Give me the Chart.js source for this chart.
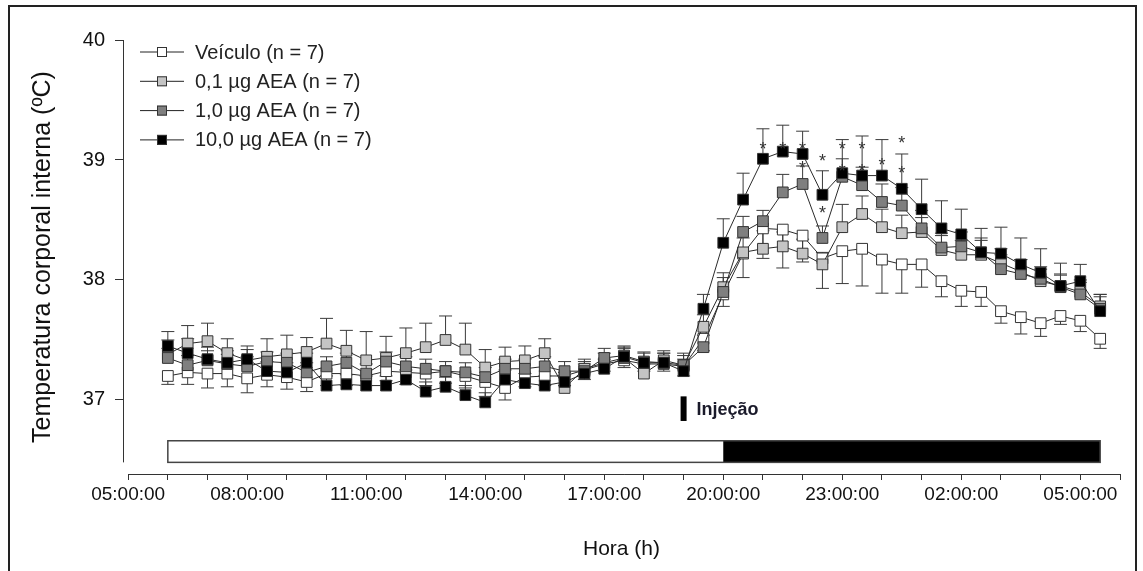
<!DOCTYPE html>
<html>
<head>
<meta charset="utf-8">
<script src="https://cdn.jsdelivr.net/npm/chart.js@4.4.0/dist/chart.umd.min.js"></script>
<style>
  html, body { margin: 0; padding: 0; background: #fff; }
  #frame { position: absolute; left: 8px; top: 5px; width: 1125px; height: 580px; border: 2px solid #222; border-bottom: none; }
  #chart { position: absolute; left: 0; top: 0; }
</style>
</head>
<body>
<div id="frame"></div>
<canvas id="chart" width="1143" height="571"></canvas>
<script>
// hora do registro (horas desde 00:00 do 1o dia)
const hours = [6, 6.5, 7, 7.5, 8, 8.5, 9, 9.5, 10, 10.5, 11, 11.5, 12, 12.5, 13, 13.5,
  14, 14.5, 15, 15.5, 16, 16.5, 17, 17.5, 18, 18.5, 19, 19.5, 20, 20.5, 21, 21.5,
  22, 22.5, 23, 23.5, 24, 24.5, 25, 25.5, 26, 26.5, 27, 27.5, 28, 28.5, 29, 29.5];

const veiculo = [37.20, 37.23, 37.22, 37.22, 37.18, 37.21, 37.19, 37.15, 37.22, 37.22, 37.20, 37.24,
  37.23, 37.22, 37.24, 37.20, 37.15, 37.10, 37.19, 37.20, 37.20, 37.25, 37.30, 37.33, 37.30, 37.30,
  37.28, 37.51, 37.88, 38.22, 38.43, 38.42, 38.37, 38.18, 38.24, 38.26, 38.17, 38.13, 38.13, 37.99,
  37.91, 37.90, 37.74, 37.69, 37.64, 37.70, 37.66, 37.51];
const aea01 = [37.38, 37.47, 37.49, 37.39, 37.33, 37.36, 37.38, 37.40, 37.47, 37.41, 37.33, 37.35,
  37.39, 37.44, 37.50, 37.42, 37.27, 37.32, 37.33, 37.39, 37.10, 37.26, 37.31, 37.35, 37.22, 37.33,
  37.29, 37.61, 37.94, 38.23, 38.26, 38.28, 38.22, 38.13, 38.44, 38.55, 38.44, 38.39, 38.40, 38.25,
  38.21, 38.21, 38.14, 38.07, 37.99, 37.95, 37.90, 37.78];
const aea10 = [37.35, 37.29, 37.33, 37.30, 37.28, 37.32, 37.31, 37.23, 37.28, 37.31, 37.22, 37.32,
  37.28, 37.26, 37.24, 37.23, 37.19, 37.26, 37.26, 37.28, 37.24, 37.24, 37.35, 37.37, 37.32, 37.31,
  37.29, 37.44, 37.90, 38.40, 38.49, 38.73, 38.80, 38.35, 38.86, 38.79, 38.65, 38.62, 38.43, 38.27,
  38.28, 38.23, 38.09, 38.05, 38.01, 37.94, 37.88, 37.76];
const aea100 = [37.45, 37.39, 37.34, 37.31, 37.34, 37.24, 37.23, 37.31, 37.12, 37.13, 37.12, 37.12,
  37.17, 37.07, 37.11, 37.04, 36.98, 37.17, 37.14, 37.12, 37.15, 37.22, 37.26, 37.36, 37.31, 37.31,
  37.24, 37.76, 38.31, 38.67, 39.01, 39.07, 39.05, 38.71, 38.89, 38.87, 38.87, 38.76, 38.59, 38.43,
  38.38, 38.23, 38.22, 38.13, 38.06, 37.95, 37.99, 37.74];

// erro padrao (barra para baixo no veiculo, para cima nos outros)
const errVeiculo = [0.07, 0.10, 0.12, 0.11, 0.12, 0.10, 0.10, 0.08, 0.10, 0.10, 0.08, 0.08, 0.10,
  0.10, 0.10, 0.10, 0.12, 0.10, 0.08, 0.08, 0.08, 0.08, 0.06, 0.06, 0.06, 0.06, 0.08, 0.10, 0.10,
  0.20, 0.25, 0.32, 0.22, 0.25, 0.27, 0.31, 0.28, 0.24, 0.19, 0.13, 0.13, 0.12, 0.10, 0.14, 0.11,
  0.07, 0.09, 0.08];
const errAea01 = [0.12, 0.15, 0.15, 0.12, 0.12, 0.15, 0.16, 0.12, 0.21, 0.17, 0.24, 0.18, 0.21,
  0.20, 0.20, 0.22, 0.15, 0.12, 0.12, 0.12, 0.10, 0.08, 0.08, 0.08, 0.08, 0.08, 0.10, 0.10, 0.12,
  0.12, 0.15, 0.12, 0.12, 0.10, 0.19, 0.15, 0.15, 0.15, 0.12, 0.12, 0.12, 0.12, 0.12, 0.10, 0.10,
  0.10, 0.10, 0.10];
const errAea10 = [0.08, 0.08, 0.08, 0.08, 0.08, 0.08, 0.08, 0.08, 0.08, 0.08, 0.08, 0.08, 0.08,
  0.08, 0.08, 0.08, 0.08, 0.08, 0.08, 0.08, 0.08, 0.08, 0.08, 0.08, 0.08, 0.08, 0.08, 0.10, 0.12,
  0.13, 0.09, 0.15, 0.15, 0.10, 0.15, 0.15, 0.15, 0.15, 0.15, 0.12, 0.12, 0.12, 0.12, 0.12, 0.10,
  0.10, 0.10, 0.10];
const errAea100 = [0.12, 0.12, 0.10, 0.10, 0.08, 0.08, 0.08, 0.08, 0.08, 0.08, 0.08, 0.08, 0.08,
  0.08, 0.08, 0.08, 0.08, 0.08, 0.08, 0.08, 0.08, 0.08, 0.08, 0.08, 0.08, 0.08, 0.10, 0.12, 0.20,
  0.22, 0.25, 0.22, 0.19, 0.20, 0.28, 0.33, 0.30, 0.29, 0.25, 0.23, 0.21, 0.20, 0.22, 0.22, 0.20,
  0.19, 0.14, 0.14];

// asteriscos (p < 0,05)
const starHours = [21, 21.5, 22, 22, 22.5, 22.5, 23, 23, 23.5, 23.5, 24, 24.5, 24.5];
const starValues = [39.12, 39.12, 39.12, 38.96, 39.02, 38.58, 39.12, 38.93, 39.12, 38.93, 38.98, 39.17, 38.92];

const xTicks = [5, 6, 7, 8, 9, 10, 11, 12, 13, 14, 15, 16, 17, 18, 19, 20, 21, 22, 23, 24, 25, 26, 27, 28, 29, 30];
const xLabels = { 5: '05:00:00', 8: '08:00:00', 11: '11:00:00', 14: '14:00:00', 17: '17:00:00',
  20: '20:00:00', 23: '23:00:00', 26: '02:00:00', 29: '05:00:00' };
const yTicks = [37, 38, 39, 40];

const injecaoHora = 19;
const claroInicio = 6, escuroInicio = 20, escuroFim = 29.5;

const series = [
    { label: 'Veículo (n = 7)', data: veiculo, err: errVeiculo, dir: -1, fill: '#ffffff' },
    { label: '0,1 µg AEA (n = 7)', data: aea01, err: errAea01, dir: 1, fill: '#c4c4c4' },
    { label: '1,0 µg AEA (n = 7)', data: aea10, err: errAea10, dir: 1, fill: '#7f7f7f' },
    { label: '10,0 µg AEA (n = 7)', data: aea100, err: errAea100, dir: 1, fill: '#000000' }
];

const FONT = "'Liberation Sans', Arial, sans-serif";

const extras = {
    id: 'extras',
    beforeDatasetsDraw(chart) {
        const { ctx, chartArea } = chart;
        const x = chart.scales.x, y = chart.scales.y;
        ctx.save();
        // barra claro / escuro
        const top = y.getPixelForValue(36.66), bot = y.getPixelForValue(36.48);
        ctx.fillStyle = '#000';
        ctx.fillRect(x.getPixelForValue(escuroInicio), top, x.getPixelForValue(escuroFim) - x.getPixelForValue(escuroInicio), bot - top);
        ctx.strokeStyle = '#444';
        ctx.lineWidth = 1.5;
        ctx.strokeRect(x.getPixelForValue(claroInicio), top, x.getPixelForValue(escuroFim) - x.getPixelForValue(claroInicio), bot - top);
        // eixos
        ctx.strokeStyle = '#333';
        ctx.lineWidth = 1;
        ctx.beginPath();
        ctx.moveTo(chartArea.left + 0.5, y.getPixelForValue(40));
        ctx.lineTo(chartArea.left + 0.5, y.getPixelForValue(36.48));
        ctx.moveTo(x.getPixelForValue(5), chartArea.bottom + 0.5);
        ctx.lineTo(x.getPixelForValue(30), chartArea.bottom + 0.5);
        ctx.stroke();
        // barras de erro
        ctx.strokeStyle = '#3a3a3a';
        chart.data.datasets.forEach((ds, d) => {
            const s = series[d];
            s.data.forEach((v, i) => {
                const px = x.getPixelForValue(hours[i]);
                const p0 = y.getPixelForValue(v);
                const p1 = y.getPixelForValue(v + s.dir * s.err[i]);
                ctx.beginPath();
                ctx.moveTo(px, p0);
                ctx.lineTo(px, p1);
                ctx.moveTo(px - 6.5, p1);
                ctx.lineTo(px + 6.5, p1);
                ctx.stroke();
            });
        });
        ctx.restore();
    },
    afterDatasetsDraw(chart) {
        const { ctx, chartArea } = chart;
        const x = chart.scales.x, y = chart.scales.y;
        ctx.save();
        // asteriscos
        ctx.fillStyle = '#333';
        ctx.font = '18px ' + FONT;
        ctx.textAlign = 'center';
        ctx.textBaseline = 'middle';
        starHours.forEach((h, i) => {
            ctx.fillText('*', x.getPixelForValue(h), y.getPixelForValue(starValues[i]) + 4);
        });
        // injecao
        const ix = x.getPixelForValue(injecaoHora);
        const iy0 = y.getPixelForValue(37.03), iy1 = y.getPixelForValue(36.825);
        ctx.fillStyle = '#000';
        ctx.fillRect(ix - 3, iy0, 6, iy1 - iy0);
        ctx.font = 'bold 18px ' + FONT;
        ctx.textAlign = 'left';
        ctx.fillStyle = '#1a1a2a';
        ctx.fillText('Injeção', ix + 13, y.getPixelForValue(36.92));
        // legenda
        ctx.font = '20px ' + FONT;
        series.forEach((s, k) => {
            const ly = chartArea.top + 12 + k * 29.3;
            const lx = chartArea.left + 17;
            ctx.strokeStyle = '#222';
            ctx.lineWidth = 1;
            ctx.beginPath();
            ctx.moveTo(lx, ly);
            ctx.lineTo(lx + 44, ly);
            ctx.stroke();
            ctx.fillStyle = s.fill;
            ctx.fillRect(lx + 17, ly - 5, 10, 10);
            ctx.strokeStyle = '#333';
            ctx.strokeRect(lx + 17.5, ly - 4.5, 9, 9);
            ctx.fillStyle = '#222';
            ctx.fillText(s.label, lx + 55, ly + 1);
        });
        ctx.restore();
    }
};

new Chart(document.getElementById('chart'), {
    type: 'line',
    data: {
        datasets: series.map((s, d) => ({
            label: s.label,
            data: hours.map((h, i) => ({ x: h, y: s.data[i] })),
            borderColor: '#2a2a2a',
            borderWidth: 1,
            pointStyle: 'rect',
            pointRadius: 7.6,
            pointBackgroundColor: s.fill,
            pointBorderColor: '#333',
            pointBorderWidth: 1,
            tension: 0,
            order: 3 - d
        }))
    },
    options: {
        responsive: false,
        animation: false,
        layout: { autoPadding: false, padding: { left: 0, right: 23, top: 40, bottom: 0 } },
        plugins: { legend: { display: false }, tooltip: { enabled: false } },
        scales: {
            x: {
                type: 'linear',
                min: 4.87,
                max: 30,
                afterBuildTicks: s => { s.ticks = xTicks.map(v => ({ value: v })); },
                afterFit: s => { s.height = 97; },
                border: { display: false },
                grid: { drawOnChartArea: false, drawTicks: true, tickLength: 6, color: '#333' },
                ticks: {
                    autoSkip: false,
                    maxRotation: 0,
                    padding: 3,
                    color: '#111',
                    font: { family: FONT, size: 19 },
                    callback: v => xLabels[v] || ''
                },
                title: { display: true, text: 'Hora (h)', color: '#111', font: { family: FONT, size: 21 }, padding: { bottom: 9 } }
            },
            y: {
                min: 36.383,
                max: 40,
                afterBuildTicks: s => { s.ticks = yTicks.map(v => ({ value: v })); },
                afterFit: s => { s.width = 123; },
                border: { display: false },
                grid: { drawOnChartArea: false, drawTicks: true, tickLength: 8, color: '#333' },
                ticks: { padding: 10, color: '#111', font: { family: FONT, size: 20 } },
                title: { display: true, text: 'Temperatura corporal interna (ºC)', color: '#111', font: { family: FONT, size: 25 }, padding: { top: 28 } }
            }
        }
    },
    plugins: [extras]
});
</script>
</body>
</html>
